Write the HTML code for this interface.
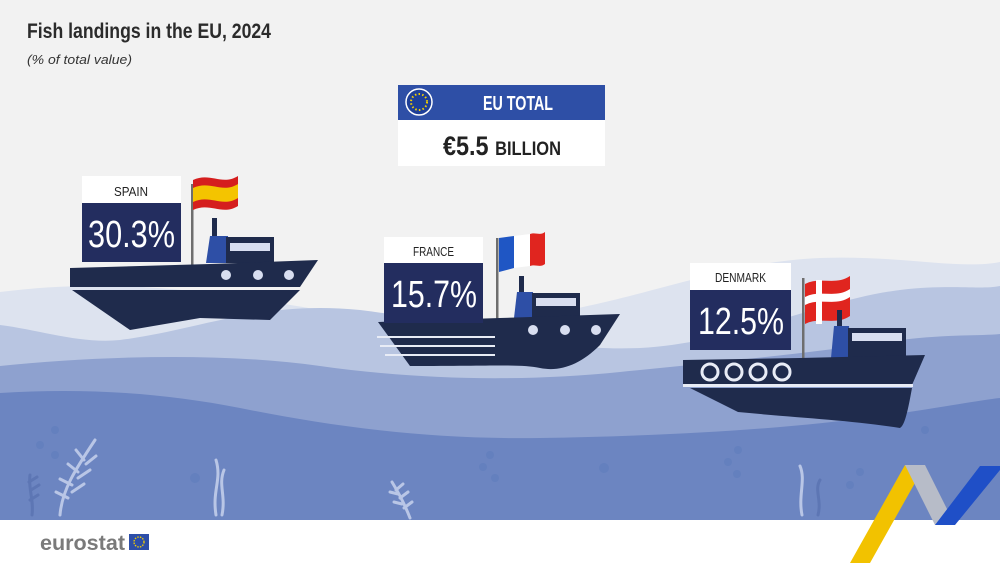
<!DOCTYPE html>
<html><head><meta charset="utf-8"><style>
html,body{margin:0;padding:0;background:#f2f2f2;}
svg{display:block;}
text{font-family:"Liberation Sans Narrow","Liberation Sans",sans-serif;}
</style></head><body>
<svg width="1000" height="563" viewBox="0 0 1000 563" xmlns="http://www.w3.org/2000/svg">
<rect width="1000" height="563" fill="#f2f2f2"/>
<path d="M0 292 C80 282 160 284 260 300 C360 316 420 330 520 318 C640 302 720 262 820 258 C900 255 960 270 1000 262 L1000 520 L0 520Z" fill="#dde3ef"/>
<path d="M0 325 C40 330 80 344 120 340 C200 330 260 300 360 310 C460 322 540 352 640 348 C740 342 820 300 900 290 C950 284 980 290 1000 286 L1000 520 L0 520Z" fill="#b8c5e1"/>
<path d="M0 366 C100 356 220 352 320 366 C420 380 520 382 620 372 C720 362 820 352 900 340 C950 334 980 336 1000 334 L1000 520 L0 520Z" fill="#8ea1cf"/>
<path d="M0 393 C80 388 160 392 240 408 C320 424 420 440 540 438 C660 436 780 430 880 416 C940 408 980 400 1000 398 L1000 520 L0 520Z" fill="#6c85c1"/>
<g fill="none" stroke="#b9c6e6" stroke-width="3" stroke-linecap="round">
<path d="M60 515 C62 490 75 470 95 440"/><path d="M68 498 l-12 -6 M72 485 l-12 -6 M78 472 l-10 -8 M84 460 l-8 -10 M72 492 l12 -8 M78 478 l12 -8 M86 464 l10 -8"/>
<path d="M216 515 C212 490 222 480 216 460"/><path d="M222 515 C226 495 218 485 224 470"/>
<path d="M410 518 C405 505 400 495 392 482"/><path d="M404 508 l8 -6 M400 498 l8 -6 M396 490 l7 -6 M402 504 l-8 -2 M398 494 l-8 -2"/>
<path d="M802 515 C798 495 806 480 800 466"/>
</g>
<g fill="none" stroke="#5d76b4" stroke-width="3" stroke-linecap="round"><path d="M32 515 C34 500 28 488 30 475"/><path d="M30 500 l8 -5 M31 490 l8 -5 M29 482 l8 -5"/><path d="M818 515 C822 500 814 490 820 480"/></g>
<g fill="#6480be"><circle cx="55" cy="430" r="4"/><circle cx="40" cy="445" r="4"/><circle cx="55" cy="455" r="4"/><circle cx="490" cy="455" r="4"/><circle cx="483" cy="467" r="4"/><circle cx="495" cy="478" r="4"/><circle cx="604" cy="468" r="5"/><circle cx="738" cy="450" r="4"/><circle cx="728" cy="462" r="4"/><circle cx="737" cy="474" r="4"/><circle cx="925" cy="430" r="4"/><circle cx="860" cy="472" r="4"/><circle cx="850" cy="485" r="4"/><circle cx="195" cy="478" r="5"/></g>
<rect x="0" y="520" width="1000" height="43" fill="#ffffff"/>
<text x="40" y="550" font-size="21" font-weight="bold" fill="#7a7a7a" textLength="85" lengthAdjust="spacingAndGlyphs">eurostat</text>
<rect x="129" y="534" width="20" height="16" fill="#2d4ea8"/><circle cx="139" cy="542" r="5" fill="none" stroke="#f5d000" stroke-width="1.3" stroke-dasharray="1.5 1.2"/>
<path d="M905 465 L925 465 L870 563 L850 563Z" fill="#f2c200"/>
<path d="M905 465 L925 465 L955 525 L935 525Z" fill="#b7bcc8"/>
<path d="M980 466 L1000 466 L1000 470 L955 525 L935 525Z" fill="#1f4fc7"/>
<text x="27" y="38" font-size="21" font-weight="bold" fill="#2b2b2b" textLength="244" lengthAdjust="spacingAndGlyphs">Fish landings in the EU, 2024</text>
<text x="27" y="64" font-size="13" font-style="italic" fill="#333" textLength="105" lengthAdjust="spacingAndGlyphs">(% of total value)</text>
<rect x="398" y="85" width="207" height="35" fill="#2e4fa6"/>
<circle cx="419" cy="102" r="13" fill="#1e3f98" stroke="#fff" stroke-width="1.5"/>
<circle cx="419" cy="102" r="8" fill="none" stroke="#f5d000" stroke-width="2" stroke-dasharray="1.5 2.2"/>
<text x="483" y="110" font-size="20" font-weight="bold" fill="#fff" textLength="70" lengthAdjust="spacingAndGlyphs">EU TOTAL</text>
<rect x="398" y="120" width="207" height="46" fill="#fff"/>
<text x="443" y="155" font-size="27" font-weight="bold" fill="#222" textLength="118" lengthAdjust="spacingAndGlyphs">€5.5 <tspan font-size="19">BILLION</tspan></text>

<rect x="191" y="184" width="2.5" height="85" fill="#6e6e6e"/>
<path d="M193 180 C210 172 222 186 238 176 L238 206 C222 216 210 202 193 210Z" fill="#d51e1e"/>
<path d="M193 188 C210 180 222 194 238 184 L238 198 C222 208 210 194 193 202Z" fill="#f4c400"/>
<rect x="212" y="218" width="5" height="20" fill="#1f2b4c"/>
<path d="M210 236 L228 236 L230 263 L206 263Z" fill="#2e4fa6"/>
<rect x="226" y="237" width="48" height="26" fill="#1f2b4c"/><rect x="230" y="243" width="40" height="8" fill="#d8def0"/>
<path d="M70 268 L210 264 L318 260 L300 287 L70 287Z" fill="#1f2b4c"/>
<path d="M72 290 L300 290 L270 320 L200 318 L130 330 Z" fill="#1f2b4c"/>
<circle cx="226" cy="275" r="5" fill="#d8def0"/><circle cx="258" cy="275" r="5" fill="#d8def0"/><circle cx="289" cy="275" r="5" fill="#d8def0"/>
<rect x="82" y="176" width="99" height="27" fill="#fff"/>
<text x="114" y="196" font-size="13" fill="#222" textLength="34" lengthAdjust="spacingAndGlyphs">SPAIN</text>
<rect x="82" y="203" width="99" height="59" fill="#232d5f"/>
<text x="88" y="247" font-size="38" fill="#fff" textLength="87" lengthAdjust="spacingAndGlyphs">30.3%</text>

<rect x="496" y="238" width="2.5" height="85" fill="#6e6e6e"/>
<path d="M499 238 L514 236 L514 268 L499 272Z" fill="#1f56c4"/>
<path d="M514 236 L530 234 L530 266 L514 268Z" fill="#fff"/>
<path d="M530 234 C536 232 540 236 545 232 L545 264 C540 268 536 264 530 266Z" fill="#e0251f"/>
<rect x="519" y="276" width="5" height="18" fill="#1f2b4c"/>
<path d="M517 292 L533 292 L535 318 L514 318Z" fill="#2e4fa6"/>
<rect x="532" y="293" width="48" height="25" fill="#1f2b4c"/><rect x="536" y="298" width="40" height="8" fill="#d8def0"/>
<path d="M378 322 L500 318 L620 314 L600 345 C580 365 560 372 540 368 C520 364 500 366 410 366 Z" fill="#1f2b4c"/>
<g stroke="#e8ecf6" stroke-width="2"><line x1="377" y1="337" x2="495" y2="337"/><line x1="380" y1="346" x2="495" y2="346"/><line x1="385" y1="355" x2="495" y2="355"/></g>
<circle cx="533" cy="330" r="5" fill="#d8def0"/><circle cx="565" cy="330" r="5" fill="#d8def0"/><circle cx="596" cy="330" r="5" fill="#d8def0"/>
<rect x="384" y="237" width="99" height="26" fill="#fff"/>
<text x="413" y="256" font-size="13" fill="#222" textLength="41" lengthAdjust="spacingAndGlyphs">FRANCE</text>
<rect x="384" y="263" width="99" height="60" fill="#232d5f"/>
<text x="391" y="307" font-size="38" fill="#fff" textLength="86" lengthAdjust="spacingAndGlyphs">15.7%</text>

<rect x="802" y="278" width="2.5" height="80" fill="#6e6e6e"/>
<path d="M805 284 C820 276 835 286 850 276 L850 316 C835 326 820 316 805 324Z" fill="#e0251f"/>
<path d="M805 297 C820 289 835 299 850 289 L850 297 C835 307 820 297 805 305Z" fill="#fff"/>
<rect x="816" y="280" width="6" height="44" fill="#fff"/>
<rect x="837" y="310" width="5" height="20" fill="#1f2b4c"/>
<path d="M834 326 L849 326 L851 358 L831 358Z" fill="#2e4fa6"/>
<rect x="848" y="328" width="58" height="30" fill="#1f2b4c"/><rect x="852" y="333" width="50" height="8" fill="#d8def0"/>
<path d="M683 360 L800 358 L925 355 L912 385 L683 385Z" fill="#1f2b4c"/>
<path d="M690 388 L912 388 C908 410 905 425 900 428 C850 420 800 418 738 412 Z" fill="#1f2b4c"/>
<rect x="683" y="384" width="230" height="3" fill="#e8ecf6"/>
<g fill="none" stroke="#e8ecf6" stroke-width="3"><circle cx="710" cy="372" r="8"/><circle cx="734" cy="372" r="8"/><circle cx="758" cy="372" r="8"/><circle cx="782" cy="372" r="8"/></g>
<rect x="690" y="263" width="101" height="27" fill="#fff"/>
<text x="715" y="282" font-size="13" fill="#222" textLength="51" lengthAdjust="spacingAndGlyphs">DENMARK</text>
<rect x="690" y="290" width="101" height="60" fill="#232d5f"/>
<text x="698" y="334" font-size="38" fill="#fff" textLength="86" lengthAdjust="spacingAndGlyphs">12.5%</text>
</svg>
</body></html>
